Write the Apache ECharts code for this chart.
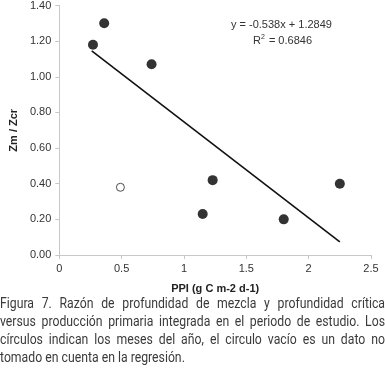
<!DOCTYPE html>
<html>
<head>
<meta charset="utf-8">
<script src="https://cdn.jsdelivr.net/npm/echarts@6/dist/echarts.min.js"></script>
<style>
  html, body { margin: 0; padding: 0; background: #fff; }
  #wrap { position: relative; width: 385px; height: 374px; overflow: hidden; }
  #chart { position: absolute; left: 0; top: 0; width: 385px; height: 374px; }
  #caption {
    position: absolute; left: 0; top: 294px; width: 440px;
    transform: scaleX(0.875); transform-origin: 0 0;
    font-family: "Roboto", "Liberation Sans", sans-serif;
    font-size: 14px; line-height: 18px; color: #3a3a3a;
  }
  #caption div { white-space: nowrap; text-align: justify; text-align-last: justify; }
  #caption div.last { text-align-last: left; }
</style>
</head>
<body>
<div id="wrap">
  <div id="chart"></div>
  <div id="caption">
    <div>Figura 7. Razón de profundidad de mezcla y profundidad crítica</div>
    <div>versus producción primaria integrada en el periodo de estudio. Los</div>
    <div>círculos indican los meses del año, el circulo vacío es un dato no</div>
    <div class="last">tomado en cuenta en la regresión.</div>
  </div>
</div>
<script>
// months used in the regression (PPI, Zm/Zcr)
const usedPoints = [
  [0.27, 1.18],
  [0.36, 1.30],
  [0.74, 1.07],
  [1.15, 0.23],
  [1.23, 0.42],
  [1.80, 0.20],
  [2.25, 0.40]
];
// month left out of the regression
const excludedPoints = [
  [0.49, 0.38]
];
// ends of the fitted line as drawn
const trendLine = [
  [0.26, 1.145],
  [2.25, 0.074]
];
const xTicks = [0, 0.5, 1, 1.5, 2, 2.5];
const yTicks = [0, 0.2, 0.4, 0.6, 0.8, 1.0, 1.2, 1.4];

const chart = echarts.init(document.getElementById('chart'));

const axisFont = 'Liberation Sans, Arial, sans-serif';

const option = {
  animation: false,
  grid: { left: 52, right: 14, top: 5, bottom: 119 },
  xAxis: {
    type: 'value',
    min: xTicks[0],
    max: xTicks[xTicks.length - 1],
    interval: 0.5,
    name: 'PPI (g C m-2 d-1)',
    nameLocation: 'middle',
    nameGap: 28,
    nameTextStyle: { fontFamily: axisFont, fontSize: 11, fontWeight: 'bold', color: '#222' },
    axisLine: { lineStyle: { color: '#c8c8c8' } },
    axisTick: { show: true, length: 4, lineStyle: { color: '#c8c8c8' } },
    axisLabel: {
      fontFamily: axisFont, fontSize: 11, color: '#333', margin: 8,
      formatter: v => String(v)
    },
    splitLine: { show: false }
  },
  yAxis: {
    type: 'value',
    min: yTicks[0],
    max: yTicks[yTicks.length - 1],
    interval: 0.2,
    name: 'Zm / Zcr',
    nameLocation: 'middle',
    nameGap: 40,
    nameRotate: 90,
    nameTextStyle: { fontFamily: axisFont, fontSize: 11, fontWeight: 'bold', color: '#222' },
    axisLine: { show: true, lineStyle: { color: '#c8c8c8' } },
    axisTick: { show: true, length: 4, lineStyle: { color: '#c8c8c8' } },
    axisLabel: {
      fontFamily: axisFont, fontSize: 11, color: '#333', margin: 8,
      formatter: v => v.toFixed(2)
    },
    splitLine: { show: false }
  },
  graphic: [
    {
      type: 'text',
      left: 231,
      top: 19,
      style: {
        text: 'y = -0.538x + 1.2849',
        font: '11px ' + axisFont,
        fill: '#333'
      }
    },
    {
      type: 'text',
      left: 253,
      top: 34,
      style: {
        text: '{a|R}{s|2}{a| = 0.6846}',
        rich: {
          a: { font: '11px ' + axisFont, fill: '#333', verticalAlign: 'bottom' },
          s: { font: '7px ' + axisFont, fill: '#333', verticalAlign: 'top', padding: [0, 1, 5, 0] }
        }
      }
    }
  ],
  series: [
    {
      name: 'Tendencia',
      type: 'line',
      data: trendLine,
      symbol: 'none',
      lineStyle: { color: '#111', width: 1.6 },
      silent: true,
      z: 1
    },
    {
      name: 'Meses',
      type: 'scatter',
      data: usedPoints,
      symbol: 'circle',
      symbolSize: 10,
      itemStyle: { color: '#000' },
      z: 3
    },
    {
      name: 'Excluido',
      type: 'scatter',
      data: excludedPoints,
      symbol: 'circle',
      symbolSize: 8,
      itemStyle: { color: '#fff', borderColor: '#222', borderWidth: 1 },
      z: 3
    }
  ]
};

chart.setOption(option);
</script>
</body>
</html>
